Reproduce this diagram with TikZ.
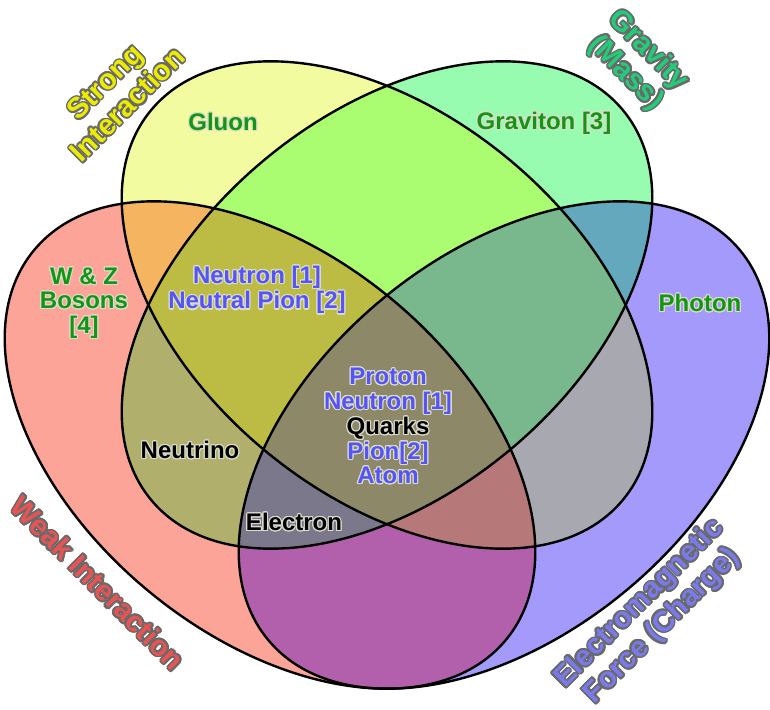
\documentclass[tikz,border=0pt]{standalone}
\usepackage{fontspec}
\setmainfont{Liberation Sans}
\definecolor{fY}{RGB}{243,251,160}
\definecolor{fG}{RGB}{152,252,176}
\definecolor{fR}{RGB}{252,164,152}
\definecolor{fB}{RGB}{164,154,252}
\definecolor{fYG}{RGB}{170,252,112}
\definecolor{fYR}{RGB}{244,180,96}
\definecolor{fYB}{RGB}{168,168,176}
\definecolor{fGR}{RGB}{176,176,108}
\definecolor{fGB}{RGB}{100,168,190}
\definecolor{fRB}{RGB}{178,96,172}
\definecolor{fYGR}{RGB}{188,188,68}
\definecolor{fYGB}{RGB}{120,184,140}
\definecolor{fYRB}{RGB}{182,120,120}
\definecolor{fGRB}{RGB}{124,120,140}
\definecolor{fAll}{RGB}{140,136,104}
\definecolor{tStrong}{RGB}{236,236,0}
\definecolor{tGrav}{RGB}{34,204,120}
\definecolor{tWeak}{RGB}{232,84,84}
\definecolor{tEM}{RGB}{122,122,236}
\definecolor{tGreen}{RGB}{20,150,20}
\definecolor{tBlue}{RGB}{84,84,248}
\definecolor{haloIn}{RGB}{220,220,205}
\definecolor{haloOut}{RGB}{105,105,105}
\newcommand\halo[3]{%
  \leavevmode
  \foreach \hang in {0,22.5,...,337.5}{%
    \pgfmathsetlengthmacro\hdx{#2*cos(\hang)}%
    \pgfmathsetlengthmacro\hdy{#2*sin(\hang)}%
    \rlap{\kern\hdx\raisebox{\hdy}{\color{#1}#3}}%
  }%
  #3%
}
\newcommand\hin[1]{\halo{haloIn}{1.1pt}{#1}}
\newcommand\hout[1]{\halo{haloOut}{1.7pt}{#1}}
\newcommand\clipEY{\clip[rotate around={-39.5:(387,305)}] (387,305) ellipse [x radius=306, y radius=190];}
\newcommand\clipEG{\clip[rotate around={39.5:(387,305)}] (387,305) ellipse [x radius=306, y radius=190];}
\newcommand\clipER{\clip[rotate around={-39.5:(270,445)}] (270,445) ellipse [x radius=306, y radius=190];}
\newcommand\clipEB{\clip[rotate around={39.5:(504,445)}] (504,445) ellipse [x radius=306, y radius=190];}
\newcommand\paintall[1]{\fill[#1] (0,0) rectangle (770,709);}
\begin{document}
\begin{tikzpicture}[x=1pt,y=-1pt,
  lab/.style={font=\bfseries\fontsize{24}{24.5}\selectfont, align=center, inner sep=0pt},
  outer/.style={font=\bfseries\fontsize{29}{32}\selectfont, align=center, inner sep=0pt},
  rim/.style={draw=black, line width=2.4pt}]
\useasboundingbox (0,0) rectangle (770,709);
% single sets
\begin{scope}\clipEY \paintall{fY}\end{scope}
\begin{scope}\clipEG \paintall{fG}\end{scope}
\begin{scope}\clipER \paintall{fR}\end{scope}
\begin{scope}\clipEB \paintall{fB}\end{scope}
% pairs
\begin{scope}\clipEY\clipEG \paintall{fYG}\end{scope}
\begin{scope}\clipEY\clipER \paintall{fYR}\end{scope}
\begin{scope}\clipEY\clipEB \paintall{fYB}\end{scope}
\begin{scope}\clipEG\clipER \paintall{fGR}\end{scope}
\begin{scope}\clipEG\clipEB \paintall{fGB}\end{scope}
\begin{scope}\clipER\clipEB \paintall{fRB}\end{scope}
% triples
\begin{scope}\clipEY\clipEG\clipER \paintall{fYGR}\end{scope}
\begin{scope}\clipEY\clipEG\clipEB \paintall{fYGB}\end{scope}
\begin{scope}\clipEY\clipER\clipEB \paintall{fYRB}\end{scope}
\begin{scope}\clipEG\clipER\clipEB \paintall{fGRB}\end{scope}
% all four
\begin{scope}\clipEY\clipEG\clipER\clipEB \paintall{fAll}\end{scope}
% outlines
\draw[rim, rotate around={-39.5:(387,305)}] (387,305) ellipse [x radius=306, y radius=190];
\draw[rim, rotate around={39.5:(387,305)}] (387,305) ellipse [x radius=306, y radius=190];
\draw[rim, rotate around={-39.5:(270,445)}] (270,445) ellipse [x radius=306, y radius=190];
\draw[rim, rotate around={39.5:(504,445)}] (504,445) ellipse [x radius=306, y radius=190];
% set names
\node[outer, text=tStrong, rotate=45] (strong) at (116,93) {\hout{Strong}\\\hout{Interaction}};
\node[outer, text=tGrav, rotate=-45] (gravity) at (637,62) {\hout{Gravity}\\\hout{(Mass)}};
\node[outer, text=tWeak, rotate=-45] (weak) at (98,583) {\hout{Weak Interaction}};
\node[outer, text=tEM, rotate=45] (em) at (651,615) {\hout{Electromagnetic}\\\hout{Force (Charge)}};
% particles
\node[lab, text=tGreen] (gluon) at (223,122) {\hin{Gluon}};
\node[lab, text=tGreen] (graviton) at (544,123) {\hin{Graviton [3]}};
\node[lab, text=tGreen] (wz) at (84,303) {\hin{W \& Z}\\\hin{Bosons}\\\hin{[4]}};
\node[lab, text=tGreen] (photon) at (700,303) {\hin{Photon}};
\node[lab, text=tBlue] (neutron) at (257,290) {\hin{Neutron [1]}\\\hin{Neutral Pion [2]}};
\node[lab, text=tBlue] (core) at (388,426) {\hin{Proton}\\\hin{Neutron [1]}\\\textcolor{black}{\hin{Quarks}}\\\hin{Pion[2]}\\\hin{Atom}};
\node[lab, text=black] (neutrino) at (190,450) {\hin{Neutrino}};
\node[lab, text=black] (electron) at (294,522) {\hin{Electron}};
\end{tikzpicture}
\end{document}
